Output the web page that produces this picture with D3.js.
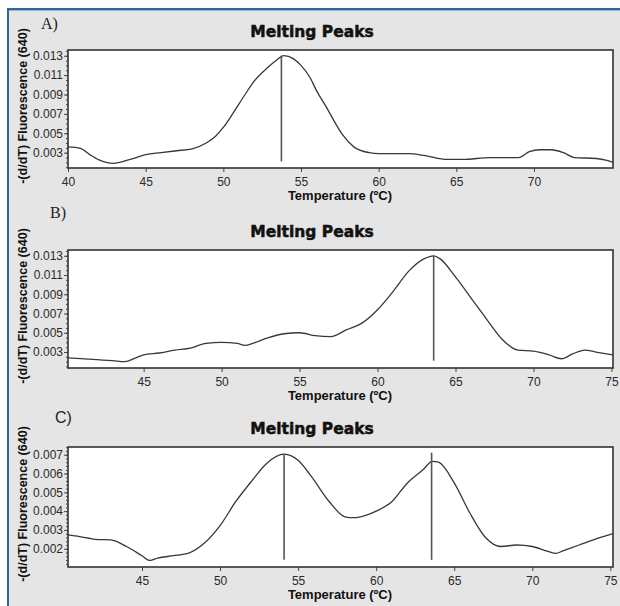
<!DOCTYPE html>
<html>
<head>
<meta charset="utf-8">
<script src="https://cdn.jsdelivr.net/npm/d3@7"></script>
<style>
  body { margin: 0; background: #fff; }
  svg { display: block; }
  .tick text { font-family: "Liberation Sans", Arial, sans-serif; font-size: 12px; fill: #2a2a2a; }
  .tick line { stroke: #444; }
</style>
</head>
<body>
<svg id="drawing_region"></svg>
<script>
// ---- data ----
var tempA = [40, 40.8, 41.4, 42, 42.9, 44, 45, 46, 47, 48, 48.9, 49.5, 50, 50.6, 51.4, 52, 52.8, 53.4, 53.9, 54.5, 55, 55.6, 56, 56.6, 57.3, 57.7, 58.4, 59.4, 60, 61, 61.9, 63, 64.4, 65.4, 67.2, 69, 69.7, 70.4, 71.1, 71.9, 72.6, 74, 74.7, 75.1];
var fluorA = [0.0036, 0.00345, 0.0028, 0.00225, 0.0019, 0.0023, 0.0028, 0.0030, 0.0032, 0.0034, 0.0040, 0.0047, 0.0056, 0.0070, 0.0090, 0.0104, 0.0117, 0.0125, 0.0130, 0.0127, 0.0120, 0.0107, 0.0094, 0.0078, 0.0058, 0.0048, 0.0036, 0.0030, 0.0029, 0.0029, 0.0029, 0.0027, 0.0023, 0.0023, 0.0025, 0.0025, 0.0031, 0.0033, 0.0033, 0.0030, 0.0025, 0.0024, 0.0022, 0.0020];

var tempB = [40.15, 42, 43, 43.8, 44.5, 45, 46, 47, 48, 49, 50, 51, 51.5, 52, 53, 54, 55, 56, 57, 58, 59, 60, 61, 62, 63, 63.6, 64, 65, 66, 67, 68, 69, 70, 71, 71.8, 72.5, 73.3, 74, 75.1];
var fluorB = [0.0024, 0.0022, 0.0021, 0.0020, 0.0024, 0.0027, 0.0029, 0.0032, 0.0034, 0.0039, 0.0040, 0.0039, 0.0037, 0.0039, 0.0045, 0.0049, 0.0050, 0.0047, 0.0046, 0.0053, 0.0060, 0.0074, 0.0093, 0.0114, 0.0127, 0.0130, 0.0127, 0.0108, 0.0086, 0.0064, 0.0043, 0.0032, 0.0031, 0.0027, 0.0023, 0.0028, 0.0032, 0.0030, 0.0027];

var tempC = [40.26, 41, 42, 43, 44, 45, 45.5, 46, 47, 48, 49, 50, 51, 52, 53, 54.1, 55, 55.8, 57, 58, 58.5, 59, 60, 61, 62, 63, 63.6, 64, 65, 66, 67, 68, 69, 70, 71, 71.5, 72, 73, 74, 75.17];
var fluorC = [0.00274, 0.00265, 0.0025, 0.00247, 0.00212, 0.00163, 0.00138, 0.0015, 0.00163, 0.00177, 0.0023, 0.00323, 0.0045, 0.00557, 0.00655, 0.00703, 0.0067, 0.0059, 0.0045, 0.0037, 0.00365, 0.0037, 0.0040, 0.0045, 0.0055, 0.0062, 0.00665, 0.0066, 0.0055, 0.0039, 0.0026, 0.00212, 0.0022, 0.00212, 0.00186, 0.00175, 0.0019, 0.0022, 0.0025, 0.0028];

// peak markers: temperature, top and bottom of the vertical line
var peaksA = [[53.74, 0.0130, 0.0021]];
var peaksB = [[63.6, 0.0130, 0.0021]];
var peaksC = [[54.1, 0.00703, 0.00141], [63.55, 0.00711, 0.00141]];

var xTicksA = [40, 45, 50, 55, 60, 65, 70];
var xTicksBC = [45, 50, 55, 60, 65, 70, 75];
var yTicksAB = [0.003, 0.005, 0.007, 0.009, 0.011, 0.013];
var yTicksC = [0.002, 0.003, 0.004, 0.005, 0.006, 0.007];

// ---- layout ----
var W = 620, H = 606;
var svg = d3.select('#drawing_region').attr('width', W).attr('height', H);

svg.append('rect').attr('width', W).attr('height', H).attr('fill', '#fff');
svg.append('rect').attr('x', 7).attr('y', 8).attr('width', W - 7).attr('height', H - 8).attr('fill', '#e5e5e5');
svg.append('rect').attr('x', 7).attr('y', 8).attr('width', W - 7).attr('height', 2).attr('fill', '#2e679f');
svg.append('rect').attr('x', 7).attr('y', 10).attr('width', W - 7).attr('height', 1).attr('fill', '#9bb6d1');
svg.append('rect').attr('x', 7).attr('y', 8).attr('width', 2).attr('height', H - 8).attr('fill', '#2e679f');

var panels = [
  { label: 'A)', labelX: 41, labelY: 29, serif: true, top: 50, bottom: 168,
    xDom: [40, 75.09], yDom: [0.00142, 0.01359], temps: tempA, vals: fluorA, peaks: peaksA,
    xTicks: xTicksA, yTicks: yTicksAB, minorStep: 0.0005 },
  { label: 'B)', labelX: 50, labelY: 218, serif: true, top: 250, bottom: 368,
    xDom: [40.15, 75.1], yDom: [0.00134, 0.0136], temps: tempB, vals: fluorB, peaks: peaksB,
    xTicks: xTicksBC, yTicks: yTicksAB, minorStep: 0.0005 },
  { label: 'C)', labelX: 55, labelY: 423, serif: false, top: 447, bottom: 567,
    xDom: [40.26, 75.17], yDom: [0.00103, 0.00741], temps: tempC, vals: fluorC, peaks: peaksC,
    xTicks: xTicksBC, yTicks: yTicksC, minorStep: 0.0002 }
];

var left = 68, right = 613;

panels.forEach(function(p) {
  var data = p.temps.map(function(t, i) { return { t: t, v: p.vals[i] }; });

  var xScale = d3.scaleLinear().domain(p.xDom).range([left, right]);
  var yScale = d3.scaleLinear().domain(p.yDom).range([p.bottom, p.top]);

  var g = svg.append('g');

  // panel letter
  g.append('text')
    .attr('x', p.labelX).attr('y', p.labelY)
    .style('font-family', p.serif ? '"Liberation Serif", "Times New Roman", serif' : '"Liberation Sans", Arial, sans-serif')
    .style('font-size', '16px')
    .style('fill', '#222')
    .text(p.label);

  // title
  g.append('text')
    .attr('x', 312).attr('y', p.top - 13)
    .attr('text-anchor', 'middle')
    .style('font-family', '"DejaVu Sans", sans-serif')
    .style('font-weight', 'bold')
    .style('font-size', '15.5px')
    .style('fill', '#111')
    .style('stroke', '#111')
    .style('stroke-width', 0.5)
    .text('Melting Peaks');

  // plot area
  g.append('rect')
    .attr('x', left).attr('y', p.top)
    .attr('width', right - left).attr('height', p.bottom - p.top)
    .attr('fill', '#fff');

  // minor y ticks
  var minor = d3.range(Math.ceil(p.yDom[0] / p.minorStep) * p.minorStep, p.yDom[1], p.minorStep);
  var minorAxis = g.append('g')
    .attr('transform', 'translate(' + left + ',0)')
    .call(d3.axisLeft(yScale).tickValues(minor).tickSize(2).tickFormat(''));
  minorAxis.select('.domain').remove();

  // major y ticks
  var yAxis = g.append('g')
    .attr('transform', 'translate(' + left + ',0)')
    .call(d3.axisLeft(yScale).tickValues(p.yTicks).tickSize(4).tickPadding(1).tickFormat(d3.format('.3f')));
  yAxis.select('.domain').remove();

  // x ticks
  var xAxis = g.append('g')
    .attr('transform', 'translate(0,' + p.bottom + ')')
    .call(d3.axisBottom(xScale).tickValues(p.xTicks).tickSize(4).tickPadding(5).tickFormat(d3.format('d')));
  xAxis.select('.domain').remove();

  // curve
  var line = d3.line()
    .x(function(d) { return xScale(d.t); })
    .y(function(d) { return yScale(d.v); })
    .curve(d3.curveMonotoneX);

  g.append('path')
    .datum(data)
    .attr('d', line)
    .attr('fill', 'none')
    .attr('stroke', '#383838')
    .attr('stroke-width', 1.3);

  // peak lines
  g.selectAll('line.peak')
    .data(p.peaks)
    .enter()
    .append('line')
    .attr('class', 'peak')
    .attr('x1', function(d) { return xScale(d[0]); })
    .attr('x2', function(d) { return xScale(d[0]); })
    .attr('y1', function(d) { return yScale(d[1]); })
    .attr('y2', function(d) { return yScale(d[2]); })
    .attr('stroke', '#555')
    .attr('stroke-width', 1.6);

  // border
  g.append('rect')
    .attr('x', left).attr('y', p.top)
    .attr('width', right - left).attr('height', p.bottom - p.top)
    .attr('fill', 'none')
    .attr('stroke', '#333')
    .attr('stroke-width', 1.6);

  // x label
  g.append('text')
    .attr('x', 340).attr('y', p.bottom + 32)
    .attr('text-anchor', 'middle')
    .style('font-family', '"Liberation Sans", Arial, sans-serif')
    .style('font-weight', 'bold')
    .style('font-size', '13px')
    .style('fill', '#111')
    .text('Temperature (\u00baC)');

  // y label
  g.append('text')
    .attr('transform', 'translate(27,' + ((p.top + p.bottom) / 2 - 3) + ') rotate(-90)')
    .attr('text-anchor', 'middle')
    .style('font-family', '"Liberation Sans", Arial, sans-serif')
    .style('font-weight', 'bold')
    .style('font-size', '12.5px')
    .style('fill', '#111')
    .text('-(d/dT) Fluorescence (640)');
});
</script>
</body>
</html>
